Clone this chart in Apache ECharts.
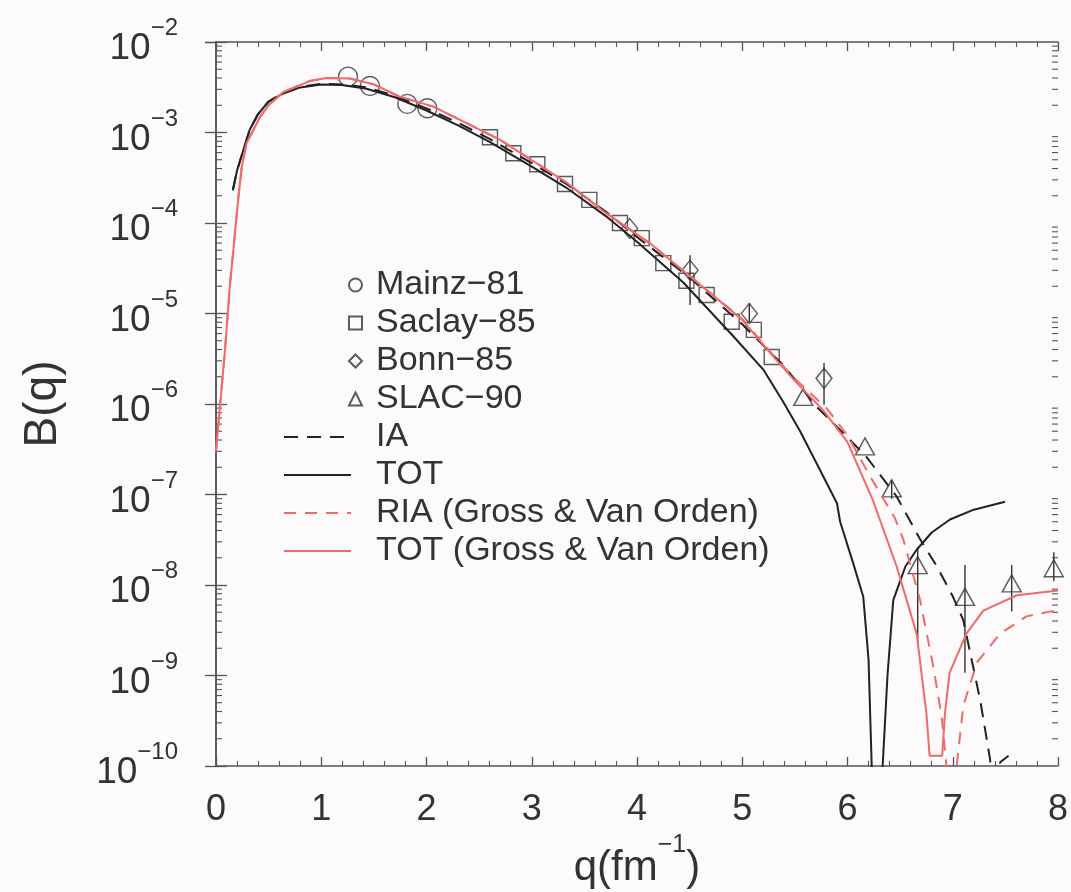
<!DOCTYPE html>
<html><head><meta charset="utf-8">
<script src="https://cdn.jsdelivr.net/npm/echarts@6/dist/echarts.min.js"></script>
<style>html,body{margin:0;padding:0;background:#fcfafb}#c{width:1071px;height:892px}</style>
</head><body><div id="c"></div><script>
// ---------- data (q in fm^-1, B(q)) ----------
const xTicks = [0,1,2,3,4,5,6,7,8];
const yTickExponents = [-10,-9,-8,-7,-6,-5,-4,-3,-2];
const yMinorMantissas = [2,3,4,5,6,7,8,9];

const mainz81 = [[1.254,4.14e-3],[1.463,3.27e-3],[1.818,2.07e-3],[2.008,1.85e-3]];
const saclay85 = [[2.603,8.85e-4],[2.825,5.9e-4],[3.053,4.46e-4],[3.316,2.7e-4],[3.547,1.8e-4],[3.838,1.0e-4],[4.045,6.8e-5],[4.25,3.6e-5],[4.47,2.3e-5],[4.662,1.6e-5],[4.9,8.1e-6],[5.11,6.6e-6],[5.28,3.3e-6]];
const bonn85 = [[3.93,8.7e-5],[4.504,3.0e-5],[5.067,1.0e-5],[5.777,1.92e-6]];
const slac90 = [[5.58,1.2e-6],[6.166,3.4e-7],[6.42,1.17e-7],[6.667,1.66e-8],[7.116,7.4e-9],[7.56,1.04e-8],[7.96,1.53e-8]];
// error bars: [q, low, high]
const errorBars = [[4.504,1.24e-5,4.4e-5],[5.067,8.1e-6,1.3e-5],[5.777,9.8e-7,2.84e-6],[6.42,9.0e-8,1.45e-7],[6.667,2.3e-9,2.6e-8],[7.116,1.07e-9,1.66e-8],[7.56,5.1e-9,1.66e-8],[7.96,1.1e-8,2.3e-8]];

const curveIA = [[0.16,2.3e-4],[0.2,3.8e-4],[0.26,6.4e-4],[0.32,1.07e-3],[0.4,1.6e-3],[0.5,2.2e-3],[0.64,2.75e-3],[0.8,3.2e-3],[1.0,3.45e-3],[1.2,3.4e-3],[1.43,3.15e-3],[1.7,2.55e-3],[2.0,1.85e-3],[2.3,1.28e-3],[2.6,8.5e-4],[3.0,4.6e-4],[3.33,2.7e-4],[3.7,1.35e-4],[4.0,7.0e-5],[4.5,2.5e-5],[5.0,7.6e-6],[5.4,2.6e-6],[5.707,9.3e-7],[6.0,4.3e-7],[6.18,2.6e-7],[6.467,9.5e-8],[6.69,3.2e-8],[6.85,1.6e-8],[7.0,7.5e-9],[7.1,4.1e-9],[7.26,5.4e-10],[7.354,1.2e-10],[7.4,3e-11],[7.45,1.1e-10],[7.53,1.3e-10]];
const curveTOT = [[0.16,2.3e-4],[0.2,3.8e-4],[0.26,6.4e-4],[0.32,1.07e-3],[0.4,1.6e-3],[0.5,2.2e-3],[0.64,2.7e-3],[0.8,3.15e-3],[1.0,3.4e-3],[1.2,3.35e-3],[1.43,3.05e-3],[1.7,2.45e-3],[2.0,1.75e-3],[2.3,1.2e-3],[2.6,7.9e-4],[3.0,4.2e-4],[3.33,2.45e-4],[3.7,1.2e-4],[4.0,6.2e-5],[4.44,2.2e-5],[4.915,5.6e-6],[5.2,2.4e-6],[5.39,1.05e-6],[5.55,5e-7],[5.707,2.2e-7],[5.9,8e-8],[5.93,5e-8],[6.05,1.8e-8],[6.15,7.4e-9],[6.2,1.5e-9],[6.23,1e-10],[6.28,1e-11],[6.334,1e-10],[6.38,1e-9],[6.435,6.8e-9],[6.55,1.6e-8],[6.657,2.45e-8],[6.8,3.8e-8],[6.974,5.3e-8],[7.2,6.8e-8],[7.497,8.3e-8]];
const curveRIA = [[0.0,3e-7],[0.086,4e-6],[0.133,2.1e-5],[0.165,5e-5],[0.21,1.8e-4],[0.244,4.1e-4],[0.29,7.6e-4],[0.42,1.5e-3],[0.5,2.0e-3],[0.64,2.8e-3],[0.89,3.7e-3],[1.05,4.0e-3],[1.27,3.95e-3],[1.5,3.4e-3],[1.74,2.5e-3],[2.065,1.93e-3],[2.7,8.3e-4],[3.33,2.8e-4],[3.7,1.3e-4],[4.12,6e-5],[4.5,2.6e-5],[5.0,8.7e-6],[5.3,3.4e-6],[5.5,1.9e-6],[5.8,9e-7],[6.0,4.5e-7],[6.2,1.7e-7],[6.34,9e-8],[6.45,5.5e-8],[6.53,3.2e-8],[6.69,6.8e-9],[6.815,1.26e-9],[6.895,3.5e-10],[6.94,1e-10],[6.99,1e-11],[7.04,1.07e-10],[7.1,4.6e-10],[7.23,1.4e-9],[7.45,2.9e-9],[7.7,4.5e-9],[8.0,5.3e-9]];
const curveTOTgvo = [[0.0,3e-7],[0.086,4e-6],[0.133,2.1e-5],[0.165,5e-5],[0.21,1.8e-4],[0.244,4.1e-4],[0.29,7.6e-4],[0.42,1.5e-3],[0.5,2.0e-3],[0.64,2.8e-3],[0.89,3.7e-3],[1.05,4.0e-3],[1.27,3.95e-3],[1.5,3.4e-3],[1.74,2.5e-3],[2.065,1.93e-3],[2.7,8.3e-4],[3.33,2.8e-4],[3.7,1.3e-4],[4.12,6e-5],[4.5,2.6e-5],[5.0,8.5e-6],[5.3,3.3e-6],[5.5,1.8e-6],[5.77,8.5e-7],[6.0,3.8e-7],[6.24,8.7e-8],[6.467,1.6e-8],[6.657,2.9e-9],[6.75,3.8e-10],[6.78,1.3e-10],[6.9,1.3e-10],[6.926,3.8e-10],[6.97,1.07e-9],[7.13,2.9e-9],[7.29,5.2e-9],[7.61,7.7e-9],[8.0,8.7e-9]];

// ---------- chart ----------
const FONT = 'Liberation Sans, Arial, Helvetica, sans-serif';
const TXT = '#333';
const AX = '#555';
const RED = '#f06a6a';
const BLK = '#222';

const yMinorTicks = [];
yTickExponents.slice(0, -1).forEach(e => yMinorMantissas.forEach(m => yMinorTicks.push([0, m * Math.pow(10, e)])));

const chart = echarts.init(document.getElementById('c'), null, {renderer: 'canvas'});

const xBase = {
  type: 'value', min: 0, max: 8, interval: 1,
  axisLine: {show: true, lineStyle: {color: AX, width: 1.5}},
  axisTick: {show: true, inside: true, length: 9, lineStyle: {color: AX, width: 1.3}},
  minorTick: {show: true, splitNumber: 5, length: 5, lineStyle: {color: AX, width: 1.1}},
  splitLine: {show: false}
};
const yBase = {
  type: 'log', logBase: 10, min: 1e-10, max: 1e-2,
  axisLine: {show: true, lineStyle: {color: AX, width: 1.5}},
  axisTick: {show: true, inside: true, length: 11, lineStyle: {color: AX, width: 1.3}},
  splitLine: {show: false}
};

const option = {
  backgroundColor: '#fcfafb',
  animation: false,
  textStyle: {fontFamily: FONT},
  grid: {left: 216, right: 13, top: 42, bottom: 126, containLabel: false, outerBoundsMode: 'none'},
  xAxis: [
    Object.assign({}, xBase, {
      position: 'bottom',
      axisLabel: {show: true, fontSize: 36, color: TXT, fontFamily: FONT, margin: 26,
        formatter: v => String(xTicks[xTicks.indexOf(Math.round(v))])},
      name: '{a|q(fm}{s|−1}{a|)}', nameLocation: 'middle', nameGap: 62,
      nameTextStyle: {rich: {
        a: {fontSize: 42, color: TXT, fontFamily: FONT, padding: [15,0,0,0], verticalAlign: 'bottom'},
        s: {fontSize: 25, color: TXT, fontFamily: FONT, verticalAlign: 'top'}
      }}
    }),
    Object.assign({}, xBase, {position: 'top', axisLabel: {show: false}})
  ],
  yAxis: [
    Object.assign({}, yBase, {
      position: 'left',
      axisLabel: {show: true, margin: 38,
        formatter: v => { const e = Math.round(Math.log10(v)); const k = yTickExponents.indexOf(e); return '{b|10}{e|−' + Math.abs(yTickExponents[k]) + '}'; },
        rich: {
          b: {fontSize: 37, color: TXT, fontFamily: FONT, padding: [14,0,0,0], verticalAlign: 'bottom'},
          e: {fontSize: 24, color: TXT, fontFamily: FONT, verticalAlign: 'top'}
        }},
      name: 'B(q)', nameLocation: 'middle', nameRotate: 90, nameGap: 150,
      nameTextStyle: {fontSize: 46, color: TXT, fontFamily: FONT}
    }),
    Object.assign({}, yBase, {position: 'right', axisLabel: {show: false}})
  ],
  legend: [
    {
      data: ['Mainz−81','Saclay−85','Bonn−85','SLAC−90'],
      orient: 'vertical', left: 348, top: 266, padding: 0, itemGap: 0,
      itemWidth: 13, itemHeight: 13, selectedMode: false,
      textStyle: {fontSize: 34, color: TXT, fontFamily: FONT, lineHeight: 38, padding: [0,0,0,9]}
    },
    {
      data: ['IA','TOT','RIA (Gross & Van Orden)','TOT (Gross & Van Orden)'],
      orient: 'vertical', left: 283, top: 418, padding: 0, itemGap: 0,
      itemWidth: 67, itemHeight: 14, selectedMode: false,
      itemStyle: {opacity: 0},
      textStyle: {fontSize: 34, color: TXT, fontFamily: FONT, lineHeight: 38, padding: [0,0,0,20]}
    }
  ],
  series: [
    {name: 'minorTicks', type: 'custom', data: yMinorTicks, encode: {x: 0, y: 1}, silent: true, clip: false,
      renderItem: (params, api) => {
        const v = api.value(1);
        const pl = api.coord([0, v]);
        const pr = api.coord([8, v]);
        return {type: 'group', children: [
          {type: 'line', shape: {x1: pl[0], y1: pl[1], x2: pl[0] + 6, y2: pl[1]}, style: {stroke: AX, lineWidth: 1.1}},
          {type: 'line', shape: {x1: pr[0], y1: pr[1], x2: pr[0] - 6, y2: pr[1]}, style: {stroke: AX, lineWidth: 1.1}}
        ]};
      }},
    {name: 'IA', type: 'line', data: curveIA, symbol: 'none', clip: true,
      lineStyle: {color: BLK, width: 2, type: [14, 9]}, itemStyle: {color: BLK}},
    {name: 'TOT', type: 'line', data: curveTOT, symbol: 'none', clip: true,
      lineStyle: {color: BLK, width: 2}, itemStyle: {color: BLK}},
    {name: 'RIA (Gross & Van Orden)', type: 'line', data: curveRIA, symbol: 'none', clip: true,
      lineStyle: {color: RED, width: 2, type: [12, 9]}, itemStyle: {color: RED}},
    {name: 'TOT (Gross & Van Orden)', type: 'line', data: curveTOTgvo, symbol: 'none', clip: true,
      lineStyle: {color: RED, width: 2}, itemStyle: {color: RED}},
    {name: 'errors', type: 'custom', data: errorBars, encode: {x: 0, y: [1, 2]}, clip: true,
      renderItem: (params, api) => {
        const p1 = api.coord([api.value(0), api.value(1)]);
        const p2 = api.coord([api.value(0), api.value(2)]);
        return {type: 'line', shape: {x1: p1[0], y1: p1[1], x2: p2[0], y2: p2[1]}, style: {stroke: '#333', lineWidth: 1.4}};
      }},
    {name: 'Mainz−81', type: 'scatter', data: mainz81, symbol: 'circle', symbolSize: 19,
      itemStyle: {color: 'rgba(0,0,0,0)', borderColor: '#333', borderWidth: 1.4}},
    {name: 'Saclay−85', type: 'scatter', data: saclay85, symbol: 'rect', symbolSize: 15,
      itemStyle: {color: 'rgba(0,0,0,0)', borderColor: '#333', borderWidth: 1.4}},
    {name: 'Bonn−85', type: 'scatter', data: bonn85, symbol: 'diamond', symbolSize: [16, 20],
      itemStyle: {color: 'rgba(0,0,0,0)', borderColor: '#333', borderWidth: 1.4}},
    {name: 'SLAC−90', type: 'scatter', data: slac90, symbol: 'triangle', symbolSize: [19, 17],
      itemStyle: {color: 'rgba(0,0,0,0)', borderColor: '#333', borderWidth: 1.4}}
  ]
};
chart.setOption(option);
</script></body></html>
